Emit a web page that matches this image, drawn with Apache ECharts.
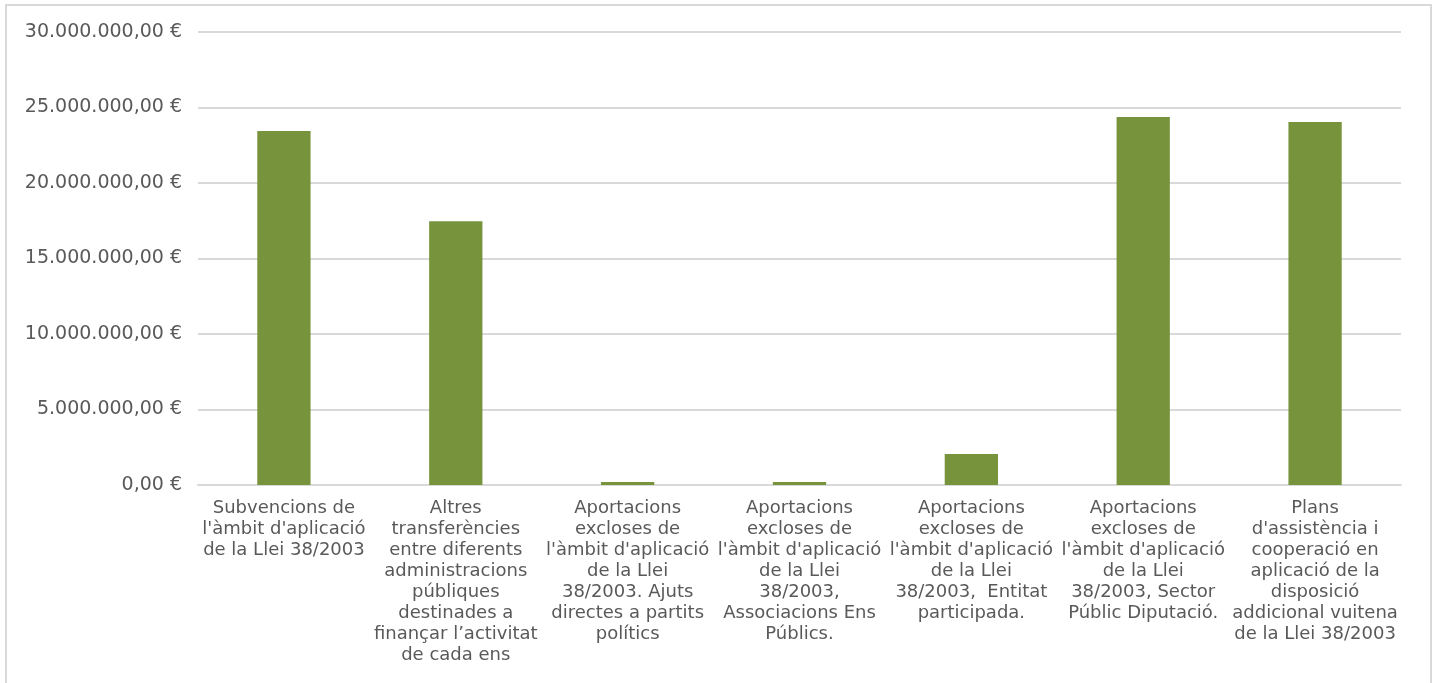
<!DOCTYPE html>
<html>
<head>
<meta charset="utf-8">
<script src="https://cdn.jsdelivr.net/npm/echarts@6/dist/echarts.min.js"></script>
<style>
html,body{margin:0;padding:0;background:#fff;overflow:hidden;}
#frame{position:absolute;left:5px;top:4px;width:1423px;height:700px;border:2px solid #d9d9d9;border-bottom:none;}
#chart{position:absolute;left:0;top:0;width:1439px;height:683px;}
</style>
</head>
<body>
<div id="frame"></div>
<div id="chart"></div>
<script>
// categories (wrapped like the original)
var categories = [
	"Subvencions de\nl'àmbit d'aplicació\nde la Llei 38/2003",
	"Altres\ntransferències\nentre diferents\nadministracions\npúbliques\ndestinades a\nfinançar l’activitat\nde cada ens",
	"Aportacions\nexcloses de\nl'àmbit d'aplicació\nde la Llei\n38/2003. Ajuts\ndirectes a partits\npolítics",
	"Aportacions\nexcloses de\nl'àmbit d'aplicació\nde la Llei\n38/2003,\nAssociacions Ens\nPúblics.",
	"Aportacions\nexcloses de\nl'àmbit d'aplicació\nde la Llei\n38/2003,  Entitat\nparticipada.",
	"Aportacions\nexcloses de\nl'àmbit d'aplicació\nde la Llei\n38/2003, Sector\nPúblic Diputació.",
	"Plans\nd'assistència i\ncooperació en\naplicació de la\ndisposició\naddicional vuitena\nde la Llei 38/2003"
];
var imports = [23440000, 17470000, 200000, 200000, 2050000, 24370000, 24040000];

function euro(v){
	var s = Math.round(v).toString().replace(/\B(?=(\d{3})+(?!\d))/g, '.');
	return s + ',00 €';
}

var myChart = echarts.init(document.getElementById('chart'));
var option = {
	animation:false,
	grid: {
		left: 198,
		right: 38,
		top: 32,
		bottom: 198
	},
	xAxis : [
		{
			type : 'category',
			data : categories,
			axisLine:{ lineStyle:{ color:'#d9d9d9', width:2 } },
			axisTick:{ show:false },
			axisLabel:{
				interval:0,
				margin:13,
				color:'#595959',
				fontFamily:'DejaVu Sans',
				fontSize:18,
				lineHeight:21,
				align:'center'
			}
		}
	],
	yAxis : [
		{
			type : 'value',
			min:0,
			max:30000000,
			interval:5000000,
			axisLine:{ show:false },
			axisTick:{ show:false },
			splitLine:{ lineStyle:{ color:'#d9d9d9', width:2 } },
			axisLabel:{
				margin:16,
				color:'#595959',
				fontFamily:'DejaVu Sans',
				fontSize:19,
				formatter:function(v){ return euro(v); }
			}
		}
	],
	series : [
		{
			name:'Import',
			type:'bar',
			barWidth:'31%',
			itemStyle:{ color:'#77933c' },
			data:imports
		}
	]
};
myChart.setOption(option);
</script>
</body>
</html>
